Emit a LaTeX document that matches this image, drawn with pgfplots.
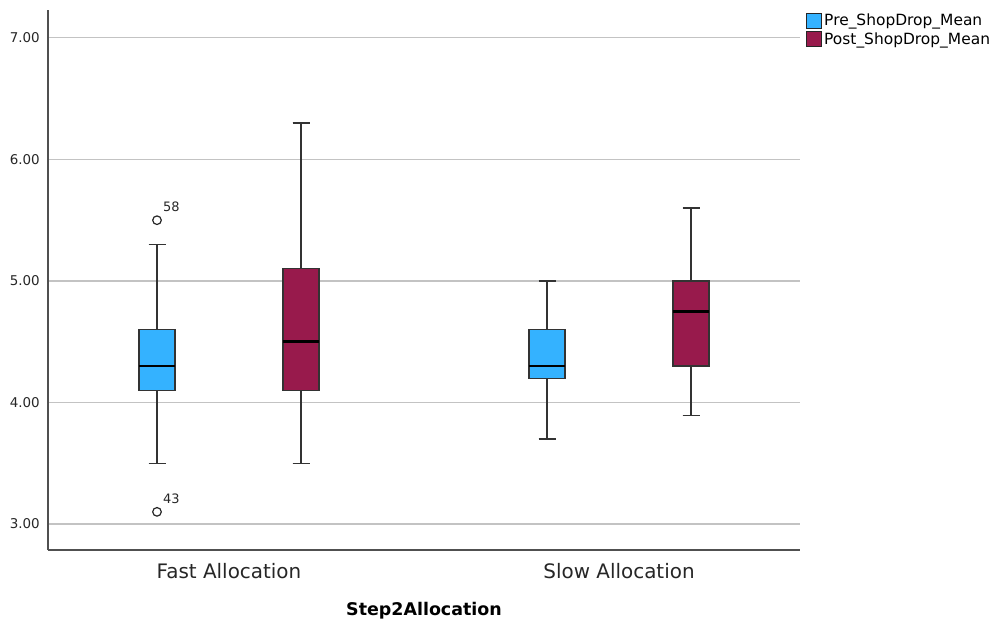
\documentclass[border=0pt]{standalone}
\usepackage{pgfplots}
\pgfplotsset{compat=1.18}
\usepgfplotslibrary{statistics}
\usepackage{fontspec}
\setmainfont{DejaVu Sans}
\definecolor{preblue}{RGB}{52,178,255}
\definecolor{postred}{RGB}{152,26,76}
\definecolor{axgray}{RGB}{80,80,80}
\definecolor{gridgray}{RGB}{195,195,195}
\begin{document}
\begin{tikzpicture}
\useasboundingbox (0,0) rectangle (998bp,621bp);
\begin{axis}[
  at={(48bp,71bp)}, anchor=south west,
  scale only axis, width=752bp, height=540bp,
  xmin=48, xmax=800, ymin=2.786, ymax=7.23,
  axis x line*=bottom, axis y line*=left,
  axis line style={axgray, line width=1.2bp, -},
  major tick length=0pt,
  ytick={3,4,5,6,7},
  ymajorgrids, grid style={gridgray, line width=1.1bp},
  /pgf/number format/assume math mode=true,
  yticklabel style={/pgf/number format/.cd, fixed, fixed zerofill, precision=2, /tikz/.cd,
    font=\fontsize{13.5}{15}\selectfont, color=black!85, anchor=east, inner sep=0pt, xshift=-8bp},
  xtick={229,619}, xticklabels={Fast Allocation, Slow Allocation},
  xticklabel style={font=\fontsize{20}{22}\selectfont, color=black!85, anchor=base, inner sep=0pt, yshift=-28bp},
  xlabel={\textbf{Step2Allocation}},
  xlabel style={font=\fontsize{17.5}{20}\selectfont, at={(axis description cs:0.5,0)}, anchor=base, inner sep=0pt, yshift=-65bp},
  boxplot/draw direction=y,
  boxplot/every median/.style={black, line width=2.6bp},
  boxplot/every box/.style={line width=1.3bp},
  boxplot/every whisker/.style={line width=1.3bp},
  legend image code/.code={\draw[#1, line width=1bp] (0bp,-7.5bp) rectangle (15bp,7.5bp);},
  legend style={at={(axis cs:803,7.225)}, anchor=north west, draw=none, fill=none,
    font=\fontsize{15.5}{18}\selectfont, row sep=2.5bp,
    nodes={inner xsep=2bp, inner ysep=1bp},
    /tikz/every even column/.style={column sep=0bp}},
  legend cell align=left,
  clip=false,
]
\addlegendimage{fill=preblue, draw=black!85}
\addlegendentry{Pre\_ShopDrop\_Mean}
\addlegendimage{fill=postred, draw=black!85}
\addlegendentry{Post\_ShopDrop\_Mean}

% Fast Allocation, Pre
\addplot[forget plot, fill=preblue, draw=black!80, mark=o, mark size=4.3bp, mark options={line width=1.2bp, draw=black!85, fill=white},
  boxplot prepared={lower whisker=3.5, lower quartile=4.1, median=4.3, upper quartile=4.6, upper whisker=5.3,
  draw position=157, box extend=36, whisker extend=17}]
  table[row sep=\\, y index=0] {data\\ 5.5\\ 3.1\\};
% Fast Allocation, Post
\addplot[forget plot, fill=postred, draw=black!80,
  boxplot prepared={lower whisker=3.5, lower quartile=4.1, median=4.5, upper quartile=5.1, upper whisker=6.3,
  draw position=301, box extend=36, whisker extend=17}]
  coordinates {};
% Slow Allocation, Pre
\addplot[forget plot, fill=preblue, draw=black!80,
  boxplot prepared={lower whisker=3.7, lower quartile=4.2, median=4.3, upper quartile=4.6, upper whisker=5.0,
  draw position=547, box extend=36, whisker extend=17}]
  coordinates {};
% Slow Allocation, Post
\addplot[forget plot, fill=postred, draw=black!80,
  boxplot prepared={lower whisker=3.89, lower quartile=4.3, median=4.75, upper quartile=5.0, upper whisker=5.6,
  draw position=691, box extend=36, whisker extend=17}]
  coordinates {};

\node[anchor=base west, inner sep=0pt, font=\fontsize{13}{15}\selectfont, color=black!85] at (axis cs:163,5.57) {58};
\node[anchor=base west, inner sep=0pt, font=\fontsize{13}{15}\selectfont, color=black!85] at (axis cs:163,3.17) {43};
\end{axis}
\end{tikzpicture}
\end{document}
